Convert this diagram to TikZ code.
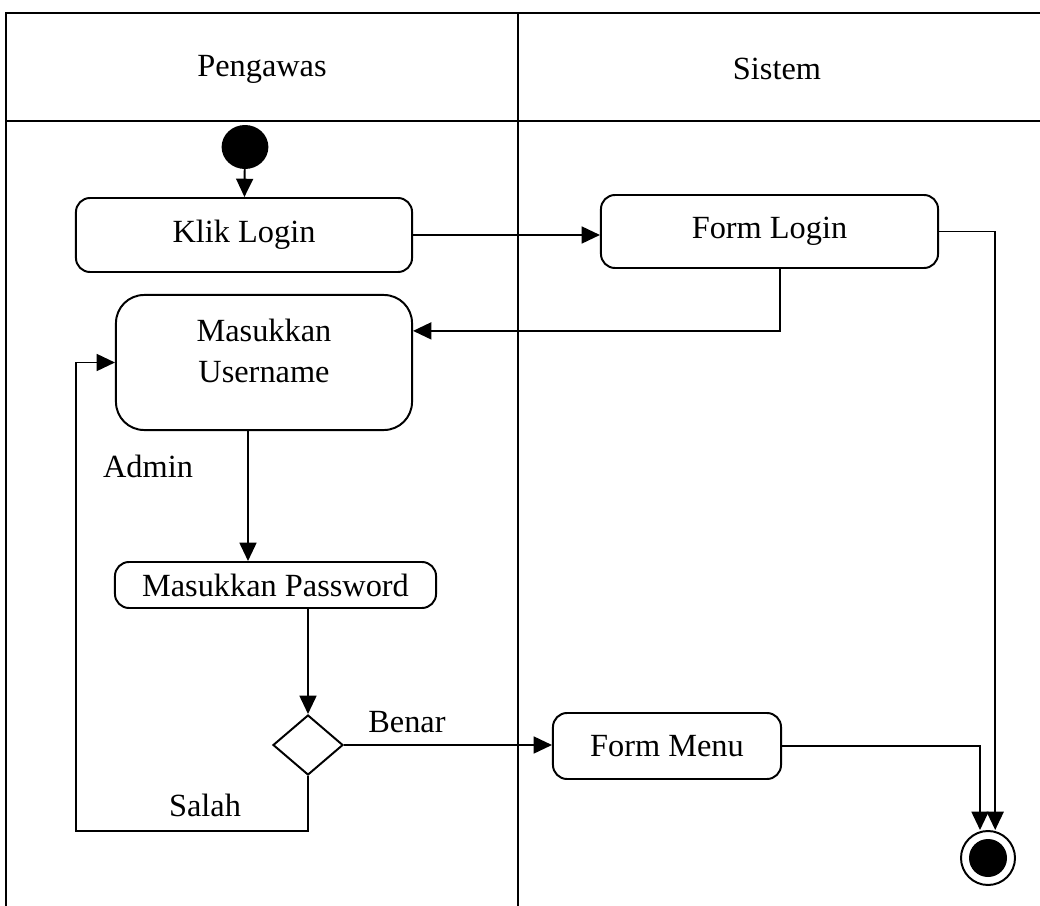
\documentclass[tikz,border=0pt]{standalone}
\usepackage{fontspec}
\setmainfont{Liberation Serif}
\usetikzlibrary{arrows.meta,shapes.geometric}

\begin{document}
\begin{tikzpicture}[x=0.025cm, y=-0.025cm, line width=1.4pt,
      font=\fontsize{23}{29}\selectfont,
      act/.style = {draw, rounded corners=10pt, align=center, inner sep=0pt},
      flow/.style = {-{Triangle[length=13pt,width=12pt]}},
      lbl/.style = {inner sep=0pt}]
      \useasboundingbox (0,0) rectangle (1040,906);
      \clip (0,0) rectangle (1040,906);

      % swimlanes
      \draw (6,13) rectangle (1050,920);
      \draw (6,121) -- (1050,121);
      \draw (518,13) -- (518,920);
      \node[lbl] (pengawas) at (262,69) {Pengawas};
      \node[lbl] (sistem) at (777,69) {Sistem};

      % activities
      \node[draw, fill, ellipse, minimum width=1.12cm, minimum height=1.05cm] (start) at (245,147) {};
      \node[act, minimum width=8.4cm, minimum height=1.85cm] (klik) at (244,235) {Klik Login};
      \node[act, minimum width=8.425cm, minimum height=1.825cm] (formlogin) at (769.5,231.5) {Form Login};
      \node[act, rounded corners=20pt, minimum width=7.4cm, minimum height=3.375cm] (user) at (264,362.5) {Masukkan\\Username\\[-0.42cm]};
      \node[act, minimum width=8.025cm, minimum height=1.15cm] (pass) at (275.5,585) {Masukkan Password};
      \node[draw, diamond, inner sep=0pt, minimum width=1.75cm, minimum height=1.5cm] (dec) at (308,745) {};
      \node[act, minimum width=5.7cm, minimum height=1.65cm] (formmenu) at (667,746) {Form Menu};
      \node[draw, circle, inner sep=0pt, minimum size=1.35cm] (finish) at (988,858) {};
      \node[fill, circle, inner sep=0pt, minimum size=0.95cm] (finishin) at (finish) {};

      \node[lbl] (admin) at (148,466) {Admin};
      \node[lbl] (benar) at (407,722) {Benar};
      \node[lbl] (salah) at (205,805) {Salah};
      \coordinate (loop) at (76,831);

      % flows
      \draw[flow] (start) -- (klik);
      \draw[flow] (klik.east) -- (klik.east -| formlogin.west);
      \draw[flow] ([xshift=0.26cm]formlogin.south) |- ([yshift=0.79cm]user.east);
      \draw[flow] (formlogin.east) -| ([xshift=0.18cm]finish.north);
      \draw[flow] ([xshift=-0.4cm]user.south) -- ([xshift=-0.4cm]user.south |- pass.north);
      \draw[flow] (dec.north |- pass.south) -- (dec.north);
      \draw[flow] (dec.east) -- (dec.east -| formmenu.west);
      \draw[flow] (formmenu.east) -| ([xshift=-0.2cm]finish.north);
      \draw[flow] (dec.south) |- (loop) |- (user.west);
\end{tikzpicture}
\end{document}
